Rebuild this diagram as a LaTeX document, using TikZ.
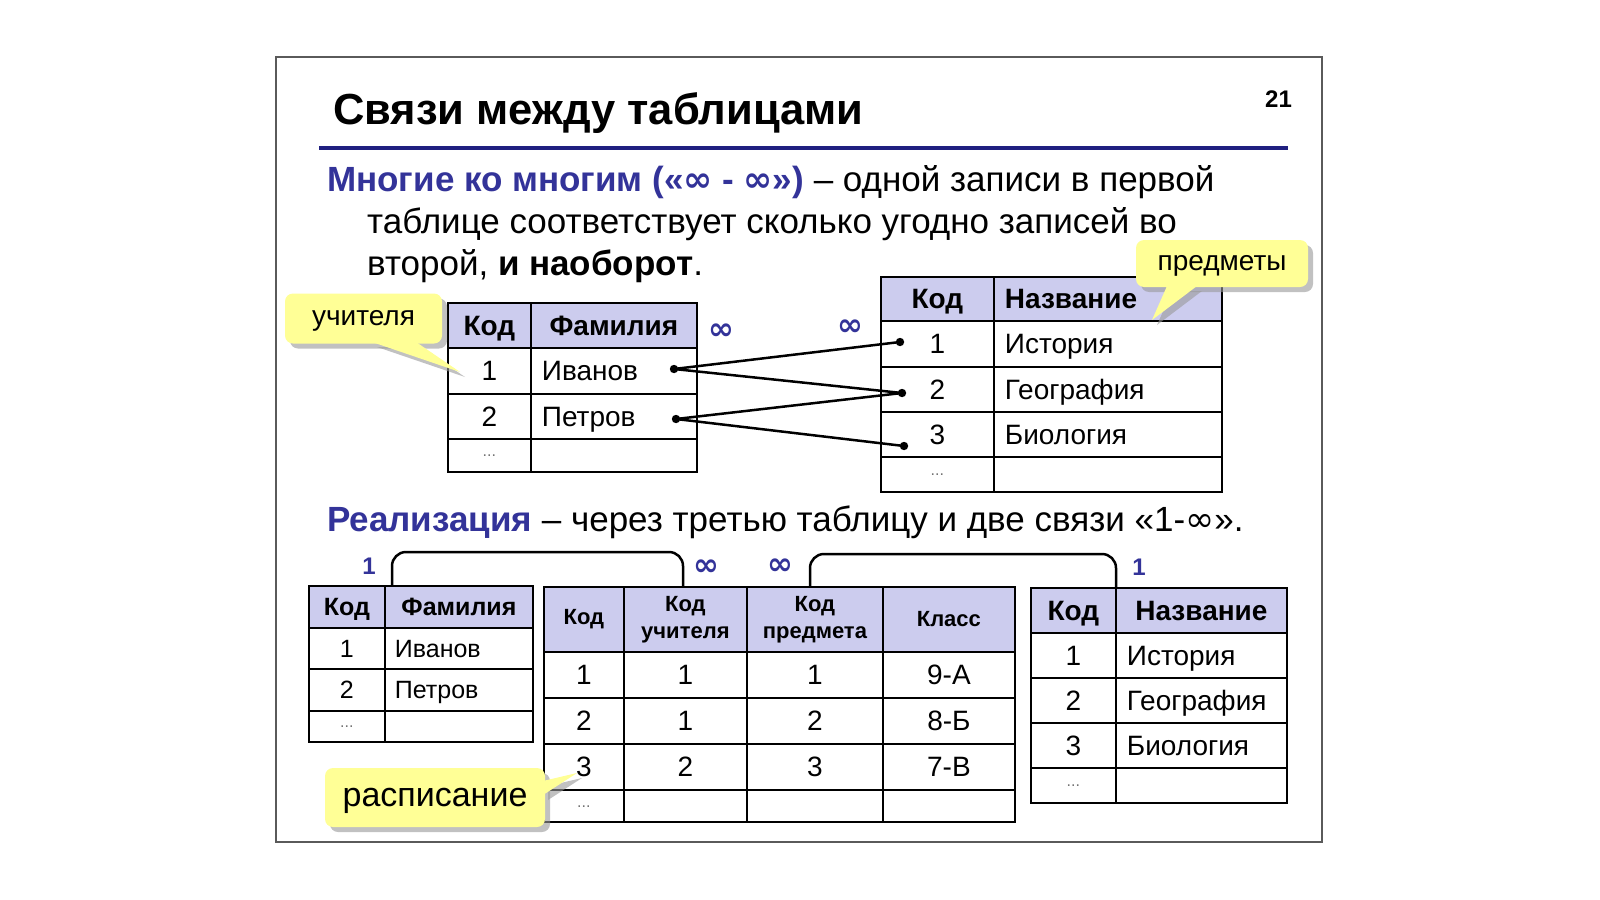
\documentclass[tikz,border=0pt]{standalone}
\usepackage{fontspec}
\setmainfont{Liberation Sans}
\newfontfamily\infont{DejaVu Sans}
\usetikzlibrary{calc,shadows}
\definecolor{blueT}{RGB}{51,51,153}
\definecolor{navyL}{RGB}{32,32,128}
\definecolor{hdrc}{RGB}{204,204,238}
\definecolor{calY}{RGB}{255,255,150}
\definecolor{frameC}{RGB}{90,90,90}
\newcommand\sz[2]{\fontsize{#1pt}{#2pt}\selectfont}
\newcommand\infsym{{\infont ∞}}
\begin{document}
\begin{tikzpicture}[x=1pt,y=-1pt,
  txt/.style={anchor=base west, inner sep=0pt, font=\sz{35}{41}},
  cellbase/.style={draw=black, line width=1.8pt, anchor=north west, inner sep=0pt},
  cell/.style={cellbase, text height=20pt, text depth=0pt, font=\sz{28}{33}},
  scell/.style={cellbase, text height=18pt, text depth=0pt, font=\sz{25}{30}},
  hc/.style={fill=hdrc, font=\sz{28}{33}\bfseries},
  shc/.style={fill=hdrc, font=\sz{25}{30}\bfseries},
  mhc/.style={cellbase, fill=hdrc, align=center, font=\sz{22}{27}\bfseries},
  lc/.style={text width=#1, align=left, inner xsep=11pt},
  dotc/.style={font=\sz{16}{18}, text=black!55, text height=3pt},
  infl/.style={inner sep=0pt, text=blueT, font=\sz{31}{34}\infont\bfseries},
  one/.style={inner sep=0pt, text=blueT, font=\sz{24}{28}\bfseries},
  link/.style={line width=2.5pt, black},
  brk/.style={line width=2.5pt, black, rounded corners=14pt},
  callout/.style={fill=calY, rounded corners=8pt, inner sep=0pt, text depth=0pt,
     drop shadow={shadow xshift=5pt, shadow yshift=-5pt, fill=black!40, opacity=0.6}},
  tail/.style={fill=calY,
     drop shadow={shadow xshift=5pt, shadow yshift=-5pt, fill=black!40, opacity=0.6}},
]
\useasboundingbox (0,0) rectangle (1600,899);
\fill[white] (0,0) rectangle (1600,899);
\draw[frameC, line width=2pt] (276,57) rectangle (1322,842);

% title
\node[anchor=base west, inner sep=0pt, font=\sz{43.5}{50}\bfseries] (title) at (333,124.5) {Связи между таблицами};
\node[anchor=base west, inner sep=0pt, font=\sz{24}{28}\bfseries] (pnum) at (1265,107) {21};
\coordinate (hl1) at (319,148);
\coordinate (hl2) at (1288,148);
\draw[navyL, line width=3.5pt] (hl1) -- (hl2);

% paragraph
\node[txt] (p1) at (327,191) {{\color{blueT}\bfseries Многие ко многим («\infsym\ - \infsym»)} – одной записи в первой};
\node[txt] (p2) at (367,233) {таблице соответствует сколько угодно записей во};
\node[txt] (p3) at (367,275) {второй, {\bfseries и наоборот}.};

% top-left table (учителя)
\node[cell,hc,minimum width=83,minimum height=45] (t1h1) at (447,302) {Код};
\node[cell,hc,minimum width=166,minimum height=45] (t1h2) at (530,302) {Фамилия};
\node[cell,minimum width=83,minimum height=46] (t1a1) at (447,347) {1};
\node[cell,lc=144,minimum width=166,minimum height=46] (t1a2) at (530,347) {Иванов};
\node[cell,minimum width=83,minimum height=45] (t1b1) at (447,393) {2};
\node[cell,lc=144,minimum width=166,minimum height=45] (t1b2) at (530,393) {Петров};
\node[cell,dotc,minimum width=83,minimum height=33] (t1c1) at (447,438) {...};
\node[cell,minimum width=166,minimum height=33] (t1c2) at (530,438) {};

% top-right table (предметы)
\node[cell,hc,minimum width=113,minimum height=44] (t2h1) at (880,276) {Код};
\node[cell,hc,lc=206,minimum width=228,minimum height=44] (t2h2) at (993,276) {Название};
\node[cell,minimum width=113,minimum height=46] (t2a1) at (880,320) {1};
\node[cell,lc=206,minimum width=228,minimum height=46] (t2a2) at (993,320) {История};
\node[cell,minimum width=113,minimum height=45] (t2b1) at (880,366) {2};
\node[cell,lc=206,minimum width=228,minimum height=45] (t2b2) at (993,366) {География};
\node[cell,minimum width=113,minimum height=45] (t2c1) at (880,411) {3};
\node[cell,lc=206,minimum width=228,minimum height=45] (t2c2) at (993,411) {Биология};
\node[cell,dotc,minimum width=113,minimum height=35] (t2d1) at (880,456) {...};
\node[cell,minimum width=228,minimum height=35] (t2d2) at (993,456) {};

% infinity labels top
\node[infl] (inf1) at (721,332) {∞};
\node[infl] (inf2) at (850,328) {∞};

% connections
\coordinate (dI) at (674,369);
\coordinate (dP) at (676,419);
\coordinate (d1) at (900,342);
\coordinate (d2) at (902,393);
\coordinate (d3) at (904,446);
\draw[link] (dI) -- (d1);
\draw[link] (dI) -- (d2);
\draw[link] (dP) -- (d2);
\draw[link] (dP) -- (d3);
\foreach \d in {dI,dP,d1,d2,d3} \fill (\d) circle (4.2pt);

% second sentence
\node[txt] (p4) at (327,531) {{\color{blueT}\bfseries Реализация} – через третью таблицу и две связи «1-\infsym».};

% bottom table A (учителя)
\node[scell,shc,minimum width=76,minimum height=42] (bAh1) at (308,585) {Код};
\node[scell,shc,minimum width=148,minimum height=42] (bAh2) at (384,585) {Фамилия};
\node[scell,minimum width=76,minimum height=41] (bAa1) at (308,627) {1};
\node[scell,lc=128,inner xsep=10pt,minimum width=148,minimum height=41] (bAa2) at (384,627) {Иванов};
\node[scell,minimum width=76,minimum height=42] (bAb1) at (308,668) {2};
\node[scell,lc=128,inner xsep=10pt,minimum width=148,minimum height=42] (bAb2) at (384,668) {Петров};
\node[scell,dotc,minimum width=76,minimum height=31] (bAc1) at (308,710) {...};
\node[scell,minimum width=148,minimum height=31] (bAc2) at (384,710) {};

% bottom table B (расписание)
\node[mhc,minimum width=80,minimum height=65] (bBh1) at (543,586) {Код};
\node[mhc,minimum width=123,minimum height=65] (bBh2) at (623,586) {Код\\учителя};
\node[mhc,minimum width=136,minimum height=65] (bBh3) at (746,586) {Код\\предмета};
\node[mhc,minimum width=132,minimum height=65] (bBh4) at (882,586) {Класс};
\node[cell,minimum width=80,minimum height=46] (bBa1) at (543,651) {1};
\node[cell,minimum width=123,minimum height=46] (bBa2) at (623,651) {1};
\node[cell,minimum width=136,minimum height=46] (bBa3) at (746,651) {1};
\node[cell,minimum width=132,minimum height=46] (bBa4) at (882,651) {9-А};
\node[cell,minimum width=80,minimum height=46] (bBb1) at (543,697) {2};
\node[cell,minimum width=123,minimum height=46] (bBb2) at (623,697) {1};
\node[cell,minimum width=136,minimum height=46] (bBb3) at (746,697) {2};
\node[cell,minimum width=132,minimum height=46] (bBb4) at (882,697) {8-Б};
\node[cell,minimum width=80,minimum height=46] (bBc1) at (543,743) {3};
\node[cell,minimum width=123,minimum height=46] (bBc2) at (623,743) {2};
\node[cell,minimum width=136,minimum height=46] (bBc3) at (746,743) {3};
\node[cell,minimum width=132,minimum height=46] (bBc4) at (882,743) {7-В};
\node[cell,dotc,minimum width=80,minimum height=32] (bBd1) at (543,789) {...};
\node[cell,minimum width=123,minimum height=32] (bBd2) at (623,789) {};
\node[cell,minimum width=136,minimum height=32] (bBd3) at (746,789) {};
\node[cell,minimum width=132,minimum height=32] (bBd4) at (882,789) {};

% bottom table C (предметы)
\node[cell,hc,minimum width=85,minimum height=45] (bCh1) at (1030,587) {Код};
\node[cell,hc,minimum width=171,minimum height=45] (bCh2) at (1115,587) {Название};
\node[cell,minimum width=85,minimum height=45] (bCa1) at (1030,632) {1};
\node[cell,lc=149,minimum width=171,minimum height=45] (bCa2) at (1115,632) {История};
\node[cell,minimum width=85,minimum height=45] (bCb1) at (1030,677) {2};
\node[cell,lc=149,minimum width=171,minimum height=45] (bCb2) at (1115,677) {География};
\node[cell,minimum width=85,minimum height=45] (bCc1) at (1030,722) {3};
\node[cell,lc=149,minimum width=171,minimum height=45] (bCc2) at (1115,722) {Биология};
\node[cell,dotc,minimum width=85,minimum height=35] (bCd1) at (1030,767) {...};
\node[cell,minimum width=171,minimum height=35] (bCd2) at (1115,767) {};

% brackets
\coordinate (bk1a) at (392,585);
\coordinate (bk1b) at (683,586);
\coordinate (bk2a) at (810,586);
\coordinate (bk2b) at (1116,587);
\draw[brk] (bk1a) -- (392,552) -- (683,552) -- (bk1b);
\draw[brk] (bk2a) -- (810,554) -- (1116,554) -- (bk2b);
\node[one] (o1) at (369,566) {1};
\node[infl] (inf3) at (706,568) {∞};
\node[infl] (inf4) at (780,567) {∞};
\node[one] (o2) at (1139,567) {1};

% callouts
\node[callout, minimum width=157, minimum height=50, text height=14.5pt, font=\sz{28}{33}] (cu) at (363.5,318.5) {учителя};
\coordinate (cuA) at (372,342);
\coordinate (cuB) at (416,342);
\coordinate (cuT) at (460,372);
\path[tail] (cuA) -- (cuT) -- (cuB) -- cycle;

\node[callout, minimum width=172, minimum height=47, text height=14.5pt, font=\sz{28}{33}] (cp) at (1222,263.5) {предметы};
\coordinate (cpA) at (1167,286);
\coordinate (cpB) at (1197,286);
\coordinate (cpT) at (1152,320);
\path[tail] (cpA) -- (cpT) -- (cpB) -- cycle;

\node[callout, minimum width=220, minimum height=59, text height=17.5pt, font=\sz{34}{40}] (cr) at (435,797.5) {расписание};
\coordinate (crA) at (543,781);
\coordinate (crB) at (543,795);
\coordinate (crT) at (577,773);
\path[tail] (crA) -- (crT) -- (crB) -- cycle;
\end{tikzpicture}
\end{document}
